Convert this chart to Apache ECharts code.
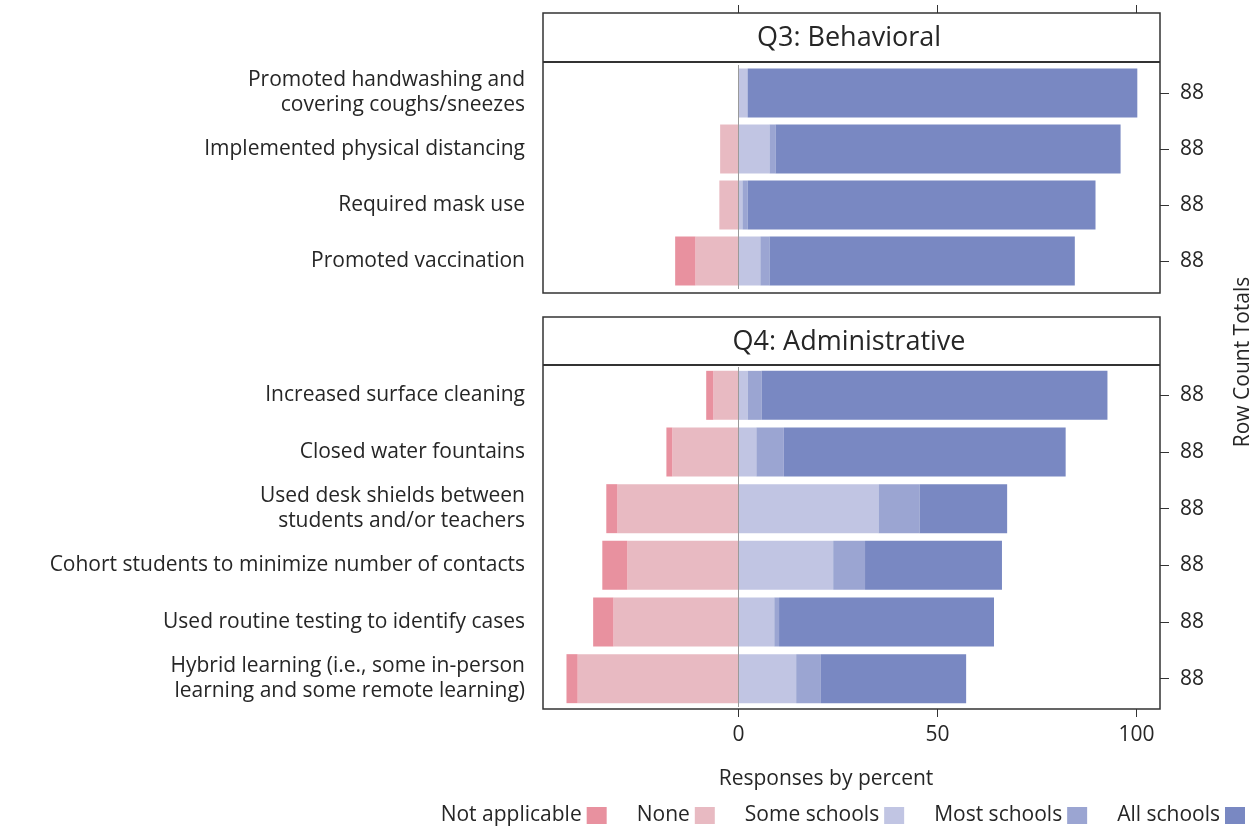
<!DOCTYPE html>
<html>
<head>
<meta charset="utf-8">
<script src="https://cdn.jsdelivr.net/npm/echarts@6/dist/echarts.min.js"></script>
<style>
  html, body { margin: 0; padding: 0; background: #fff; }
  #main { width: 1260px; height: 826px; }
</style>
</head>
<body>
<div id="main"></div>
<script>
// Q3 / Q4 school measures, percent of responses (n = 88 each row)
var levels = ['Not applicable', 'None', 'Some schools', 'Most schools', 'All schools'];
var colors = ['#e8919f', '#e8bac2', '#c1c5e3', '#9ba5d2', '#7988c2'];

var cats1 = [
  'Promoted handwashing and\ncovering coughs/sneezes',
  'Implemented physical distancing',
  'Required mask use',
  'Promoted vaccination'
];
var na1   = [0, 0, 0, 5.1];
var none1 = [0, 4.6, 4.8, 10.8];
var some1 = [2.3, 7.8, 1.0, 5.5];
var most1 = [0, 1.5, 1.3, 2.3];
var all1  = [97.9, 86.7, 87.4, 76.7];
var tot1  = [88, 88, 88, 88];

var cats2 = [
  'Increased surface cleaning',
  'Closed water fountains',
  'Used desk shields between\nstudents and/or teachers',
  'Cohort students to minimize number of contacts',
  'Used routine testing to identify cases',
  'Hybrid learning (i.e., some in-person\nlearning and some remote learning)'
];
var na2   = [1.8, 1.5, 2.8, 6.3, 5.1, 2.8];
var none2 = [6.3, 16.6, 30.4, 27.9, 31.4, 40.4];
var some2 = [2.3, 4.5, 35.2, 23.8, 9.0, 14.5];
var most2 = [3.5, 6.9, 10.3, 8.0, 1.2, 6.1];
var all2  = [86.9, 70.8, 22.0, 34.4, 54.0, 36.6];
var tot2  = [88, 88, 88, 88, 88, 88];

var xTicks = [0, 50, 100];
var FONT = 'Open Sans';
var FS = 21;
var TXT = '#262626';

var dom = document.getElementById('main');
var myChart = echarts.init(dom, null, { renderer: 'canvas' });

function neg(a) { return a.map(function (v) { return -v; }); }

// one stacked set of bars per panel; None sits next to zero, NA further out
function panelSeries(idx, na, none, some, most, all) {
  var parts = [
    [1, neg(none)], [0, neg(na)], [2, some], [3, most], [4, all]
  ];
  return parts.map(function (p, k) {
    var s = {
      name: levels[p[0]],
      type: 'bar',
      xAxisIndex: idx,
      yAxisIndex: idx * 2,
      stack: 'p' + idx,
      barWidth: 49,
      itemStyle: { color: colors[p[0]] },
      emphasis: { disabled: true },
      data: p[1]
    };
    if (k === 4) {
      s.markLine = {
        silent: true,
        symbol: 'none',
        z: 10,
        label: { show: false },
        lineStyle: { color: '#9a9a9a', width: 1, type: 'solid' },
        data: [{ xAxis: 0 }]
      };
    }
    return s;
  });
}

function catAxis(idx, data, right) {
  return {
    type: 'category',
    gridIndex: idx,
    data: data,
    inverse: true,
    position: right ? 'right' : 'left',
    axisLine: { show: false },
    axisTick: right ? { show: true, length: 9, alignWithLabel: true, lineStyle: { color: '#333' } } : { show: false },
    axisLabel: right
      ? { margin: 20, fontSize: FS, color: TXT, fontFamily: FONT }
      : { margin: 18, fontSize: FS, lineHeight: 25, color: TXT, fontFamily: FONT, align: 'right' }
  };
}

var option = {
  animation: false,
  textStyle: { fontFamily: FONT },
  grid: [
    { left: 543, top: 65, width: 617, height: 224 },
    { left: 543, top: 367, width: 617, height: 340 }
  ],
  xAxis: [
    {
      type: 'value', gridIndex: 0, min: -49.1, max: 105.9,
      position: 'top', offset: 52,
      splitLine: { show: false }, axisLine: { show: false },
      axisTick: { show: true, length: 8, customValues: xTicks, lineStyle: { color: '#333' } },
      axisLabel: { show: false }
    },
    {
      type: 'value', gridIndex: 1, min: -49.1, max: 105.9,
      position: 'bottom', offset: 2,
      splitLine: { show: false }, axisLine: { show: false },
      axisTick: { show: true, length: 8, customValues: xTicks, lineStyle: { color: '#333' } },
      axisLabel: { customValues: xTicks, margin: 16, fontSize: FS, color: TXT, fontFamily: FONT }
    }
  ],
  yAxis: [
    catAxis(0, cats1, false),
    catAxis(0, tot1, true),
    catAxis(1, cats2, false),
    catAxis(1, tot2, true)
  ],
  legend: {
    data: levels,
    right: 10,
    top: 800,
    align: 'right',
    itemWidth: 20,
    itemHeight: 17,
    itemGap: 30,
    icon: 'rect',
    textStyle: { fontSize: FS, color: TXT, fontFamily: FONT },
    selectedMode: false
  },
  series: panelSeries(0, na1, none1, some1, most1, all1)
    .concat(panelSeries(1, na2, none2, some2, most2, all2)),
  graphic: [
    // panel boxes and strips
    { type: 'rect', shape: { x: 543, y: 13, width: 617, height: 280 }, style: { fill: 'none', stroke: '#333', lineWidth: 1.5 }, z: 20 },
    { type: 'line', shape: { x1: 543, y1: 62, x2: 1160, y2: 62 }, style: { stroke: '#333', lineWidth: 2 }, z: 20 },
    { type: 'rect', shape: { x: 543, y: 317, width: 617, height: 392 }, style: { fill: 'none', stroke: '#333', lineWidth: 1.5 }, z: 20 },
    { type: 'line', shape: { x1: 543, y1: 365, x2: 1160, y2: 365 }, style: { stroke: '#333', lineWidth: 2 }, z: 20 },
    { type: 'text', x: 849, y: 38, style: { text: 'Q3: Behavioral', fontSize: 27, fill: TXT, fontFamily: FONT, align: 'center', verticalAlign: 'middle' } },
    { type: 'text', x: 849, y: 342, style: { text: 'Q4: Administrative', fontSize: 27, fill: TXT, fontFamily: FONT, align: 'center', verticalAlign: 'middle' } },
    { type: 'text', x: 826, y: 779, style: { text: 'Responses by percent', fontSize: FS, fill: TXT, fontFamily: FONT, align: 'center', verticalAlign: 'middle' } },
    { type: 'text', x: 1243, y: 362, rotation: Math.PI / 2, style: { text: 'Row Count Totals', fontSize: FS, fill: TXT, fontFamily: FONT, align: 'center', verticalAlign: 'middle' } }
  ]
};

myChart.setOption(option);
</script>
</body>
</html>
